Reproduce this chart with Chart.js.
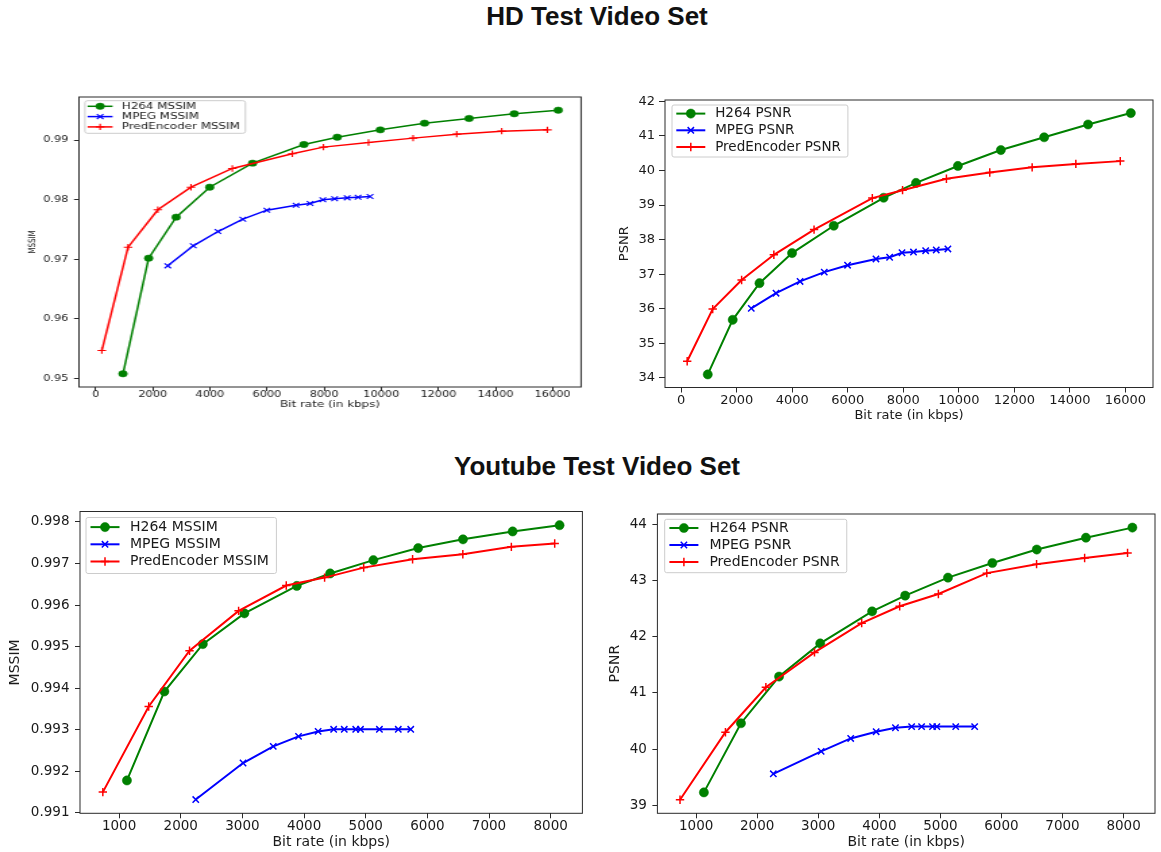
<!DOCTYPE html>
<html>
<head>
<meta charset="utf-8">
<script src="https://cdn.jsdelivr.net/npm/chart.js@4.4.1/dist/chart.umd.min.js"></script>
<style>
    html, body { margin: 0; padding: 0; background: #fff; }
    body { width: 1161px; height: 852px; position: relative; overflow: hidden; }
    .title { position: absolute; left: 0; width: 1194px; text-align: center; line-height: 30px;
             font-family: "Liberation Sans", Arial, sans-serif; font-weight: bold; font-size: 26px; color: #111; }
    .box { position: absolute; transform-origin: 0 0; }
    .box canvas { display: block; }
</style>
</head>
<body>
<div class="title" style="top:1px">HD Test Video Set</div>
<div class="title" style="top:451px">Youtube Test Video Set</div>
<div class="box" id="b1"><canvas id="c1"></canvas></div>
<div class="box" id="b2"><canvas id="c2"></canvas></div>
<div class="box" id="b3"><canvas id="c3"></canvas></div>
<div class="box" id="b4"><canvas id="c4"></canvas></div>
<script>
// ---- HD test video set ----
const hdH264Rate = [957, 1856, 2820, 3994, 5495, 7292, 8459, 9967, 11515, 13075, 14656, 16196];
const hdMpegRate = [2525, 3416, 4282, 5154, 5993, 7016, 7508, 7954, 8367, 8806, 9187, 9607];
const hdPredRate = [216, 1135, 2177, 3338, 4786, 6885, 7974, 9554, 11115, 12642, 14216, 15816];

const hdH264Mssim = [0.95079, 0.9702, 0.97708, 0.98211, 0.98614, 0.98927, 0.9905, 0.99173, 0.99285, 0.99364, 0.99442, 0.99503];
const hdMpegMssim = [0.96891, 0.97227, 0.97467, 0.97674, 0.97825, 0.97909, 0.97937, 0.97999, 0.98016, 0.98032, 0.98043, 0.98055];
const hdPredMssim = [0.9547, 0.97204, 0.97831, 0.98211, 0.98525, 0.98771, 0.98883, 0.98961, 0.99034, 0.99101, 0.99151, 0.99173];

const hdH264Psnr = [34.10, 35.68, 36.74, 37.61, 38.40, 39.21, 39.64, 40.13, 40.59, 40.96, 41.33, 41.66];
const hdMpegPsnr = [36.01, 36.45, 36.79, 37.06, 37.26, 37.44, 37.49, 37.62, 37.64, 37.68, 37.70, 37.73];
const hdPredPsnr = [34.48, 35.99, 36.83, 37.56, 38.29, 39.20, 39.43, 39.76, 39.94, 40.09, 40.19, 40.27];

// ---- Youtube test video set ----
const ytH264Rate = [1127, 1734, 2358, 3032, 3882, 4423, 5124, 5851, 6578, 7383, 8144];
const ytPredRate = [736, 1480, 2142, 2938, 3711, 4333, 4967, 5760, 6575, 7362, 8065];
const ytMpegRateMssim = [2243, 3010, 3500, 3910, 4228, 4480, 4652, 4838, 4915, 5222, 5528, 5730];
const ytMpegRatePsnr = [2264, 3047, 3531, 3948, 4264, 4529, 4692, 4871, 4942, 5251, 5561];

const ytH264Mssim = [0.99178, 0.99392, 0.99506, 0.9958, 0.99646, 0.99676, 0.99708, 0.99737, 0.99758, 0.99777, 0.99792];
const ytMpegMssim = [0.99132, 0.9922, 0.9926, 0.99284, 0.99296, 0.99301, 0.99301, 0.99301, 0.99301, 0.99301, 0.99301, 0.99301];
const ytPredMssim = [0.9915, 0.99356, 0.9949, 0.99586, 0.99647, 0.99666, 0.9969, 0.9971, 0.99722, 0.9974, 0.99748];

const ytH264Psnr = [39.23, 40.46, 41.29, 41.88, 42.45, 42.73, 43.05, 43.31, 43.55, 43.76, 43.94];
const ytMpegPsnr = [39.56, 39.96, 40.19, 40.31, 40.38, 40.40, 40.40, 40.40, 40.40, 40.40, 40.40];
const ytPredPsnr = [39.10, 40.30, 41.10, 41.72, 42.24, 42.54, 42.76, 43.13, 43.29, 43.40, 43.49];

// ---- ticks ----
const hdRateTicks = [0, 2000, 4000, 6000, 8000, 10000, 12000, 14000, 16000];
const hdRateLabels = ['0', '2000', '4000', '6000', '8000', '10000', '12000', '14000', '16000'];
const hdMssimTicks = [0.95, 0.96, 0.97, 0.98, 0.99];
const hdMssimLabels = ['0.95', '0.96', '0.97', '0.98', '0.99'];
const hdPsnrTicks = [34, 35, 36, 37, 38, 39, 40, 41, 42];
const hdPsnrLabels = ['34', '35', '36', '37', '38', '39', '40', '41', '42'];
const ytRateTicks = [1000, 2000, 3000, 4000, 5000, 6000, 7000, 8000];
const ytRateLabels = ['1000', '2000', '3000', '4000', '5000', '6000', '7000', '8000'];
const ytMssimTicks = [0.991, 0.992, 0.993, 0.994, 0.995, 0.996, 0.997, 0.998];
const ytMssimLabels = ['0.991', '0.992', '0.993', '0.994', '0.995', '0.996', '0.997', '0.998'];
const ytPsnrTicks = [39, 40, 41, 42, 43, 44];
const ytPsnrLabels = ['39', '40', '41', '42', '43', '44'];

const FONT = '"DejaVu Sans", sans-serif';
const INK = '#1a1a1a';

// matplotlib style autoscale: 5% margin on each side
function padRange(list) {
    const all = [].concat(...list);
    const lo = Math.min(...all), hi = Math.max(...all);
    const m = (hi - lo) * 0.05;
    return [lo - m, hi + m];
}

function pts(xs, ys) {
    return xs.map((x, i) => ({x: x, y: ys[i]}));
}

const styles = {
    h264: {color: '#008000', pointStyle: 'circle'},
    mpeg: {color: '#0000ff', pointStyle: 'crossRot'},
    pred: {color: '#ff0000', pointStyle: 'cross'}
};

function series(label, xs, ys, kind, sz, order) {
    const s = styles[kind];
    return {
        label: label,
        data: pts(xs, ys),
        showLine: true,
        fill: false,
        tension: 0,
        order: order,
        borderColor: s.color,
        borderWidth: sz.line,
        pointStyle: s.pointStyle,
        pointRadius: kind === 'h264' ? sz.dot : (kind === 'mpeg' ? sz.x : sz.plus),
        pointHoverRadius: kind === 'h264' ? sz.dot : sz.x,
        pointBorderWidth: kind === 'h264' ? 0.5 : sz.mark,
        pointBackgroundColor: s.color,
        pointBorderColor: s.color
    };
}

const frame = {
    id: 'frame',
    afterDatasetsDraw(chart, args, o) {
        const {ctx, chartArea: a} = chart;
        ctx.save();
        ctx.strokeStyle = '#2a2a2a';
        ctx.lineWidth = o.width || 1;
        ctx.strokeRect(a.left, a.top, a.right - a.left, a.bottom - a.top);
        ctx.restore();
    }
};

const mplLegend = {
    id: 'mplLegend',
    afterDraw(chart, args, o) {
        const {ctx, chartArea: a} = chart;
        const sets = chart.data.datasets;
        const x = a.left + o.bx, y = a.top + o.by;
        ctx.save();
        ctx.font = o.size + 'px ' + FONT;
        let tw = 0;
        sets.forEach(d => { tw = Math.max(tw, ctx.measureText(d.label).width); });
        const w = o.textX + tw + o.padR;
        ctx.beginPath();
        ctx.roundRect(x, y, w, o.bh, 2);
        ctx.fillStyle = 'rgba(255,255,255,0.8)';
        ctx.fill();
        ctx.strokeStyle = '#cccccc';
        ctx.lineWidth = 1;
        ctx.stroke();
        sets.forEach((d, i) => {
            const cy = y + o.r0 + i * o.rowH;
            ctx.strokeStyle = d.borderColor;
            ctx.lineWidth = d.borderWidth;
            ctx.beginPath();
            ctx.moveTo(x + o.lineX, cy);
            ctx.lineTo(x + o.lineX + o.lineLen, cy);
            ctx.stroke();
            ctx.fillStyle = d.pointBackgroundColor;
            ctx.strokeStyle = d.pointBorderColor;
            ctx.lineWidth = d.pointBorderWidth;
            Chart.helpers.drawPoint(ctx, {
                pointStyle: d.pointStyle, radius: d.pointRadius,
                borderWidth: d.pointBorderWidth, rotation: 0
            }, x + o.lineX + o.lineLen / 2, cy);
            ctx.fillStyle = INK;
            ctx.textAlign = 'left';
            ctx.textBaseline = 'middle';
            ctx.fillText(d.label, x + o.textX, cy);
        });
        ctx.restore();
    }
};

function axis(ticks, labels, range, o) {
    return {
        type: 'linear',
        min: range[0],
        max: range[1],
        afterBuildTicks: s => { s.ticks = ticks.map(v => ({value: v})); },
        afterFit: s => {
            if (o.width !== undefined) s.width = o.width;
            if (o.height !== undefined) s.height = o.height;
            s.paddingTop = 0; s.paddingBottom = 0; s.paddingLeft = 0; s.paddingRight = 0;
        },
        ticks: {
            autoSkip: false,
            maxRotation: 0,
            minRotation: 0,
            padding: o.pad,
            color: INK,
            font: {family: FONT, size: o.tick, lineHeight: 1},
            callback: (v, i) => labels[i]
        },
        grid: {display: true, drawOnChartArea: false, drawTicks: true, tickLength: o.tl, color: '#2a2a2a', lineWidth: 1},
        border: {display: false},
        title: {
            display: true,
            text: o.title,
            color: INK,
            font: {family: FONT, size: o.titleSize, lineHeight: 1.2},
            padding: o.titlePad
        }
    };
}

function makeChart(p) {
    const box = document.getElementById(p.box);
    box.style.left = p.left + 'px';
    box.style.top = p.top + 'px';
    box.style.width = p.w + 'px';
    box.style.height = p.h + 'px';
    if (p.sx !== 1) box.style.transform = 'scaleX(' + p.sx + ')';
    const cv = document.getElementById(p.canvas);
    cv.width = p.w;
    cv.height = p.h;
    return new Chart(cv.getContext('2d'), {
        type: 'scatter',
        data: {datasets: p.datasets},
        plugins: [frame, mplLegend],
        options: {
            responsive: false,
            animation: false,
            events: [],
            layout: {padding: {left: 0, top: p.area.t, right: p.w - p.area.r, bottom: 0}},
            plugins: {legend: {display: false}, tooltip: {enabled: false}, frame: {}, mplLegend: p.legend},
            scales: {
                x: axis(p.xTicks, p.xLabels, p.xRange, Object.assign({height: p.h - p.area.b}, p.xAxis)),
                y: axis(p.yTicks, p.yLabels, p.yRange, Object.assign({width: p.area.l}, p.yAxis))
            }
        }
    });
}

const smallSz = {line: 1.5, dot: 3.2, x: 3.4, plus: 3.2, mark: 1.1};
const bigSz = {line: 2, dot: 4.6, x: 4.5, plus: 4.2, mark: 1.5};

const hdRateRange = padRange([hdH264Rate, hdMpegRate, hdPredRate]);
const ytRateRange = padRange([ytH264Rate, ytMpegRateMssim, ytMpegRatePsnr, ytPredRate]);

// HD MSSIM (the source image of this panel is stretched horizontally)
makeChart({
    box: 'b1', canvas: 'c1', left: 0, top: 88, w: 437, h: 332, sx: 1.35,
    area: {l: 58.5, t: 9, r: 430.4, b: 299},
    xTicks: hdRateTicks, xLabels: hdRateLabels, xRange: hdRateRange,
    yTicks: hdMssimTicks, yLabels: hdMssimLabels, yRange: padRange([hdH264Mssim, hdMpegMssim, hdPredMssim]),
    xAxis: {tick: 8.4, tl: 4, pad: 0, title: 'Bit rate (in kbps)', titleSize: 8.8, titlePad: {top: 0, bottom: 9.6}},
    yAxis: {tick: 8.4, tl: 3.7, pad: 4.2, title: 'MSSIM', titleSize: 7.2, titlePad: {top: 20.2, bottom: 0}},
    legend: {size: 8.8, bx: 4.4, by: 3.7, bh: 32.6, r0: 5.6, rowH: 10.3, lineX: 2, lineLen: 18.5, textX: 27.4, padR: 4.2},
    datasets: [
        series('H264 MSSIM', hdH264Rate, hdH264Mssim, 'h264', smallSz, 3),
        series('MPEG MSSIM', hdMpegRate, hdMpegMssim, 'mpeg', smallSz, 2),
        series('PredEncoder MSSIM', hdPredRate, hdPredMssim, 'pred', smallSz, 1)
    ]
});

// HD PSNR
makeChart({
    box: 'b2', canvas: 'c2', left: 600, top: 88, w: 561, h: 337, sx: 1,
    area: {l: 65, t: 12, r: 553, b: 299.5},
    xTicks: hdRateTicks, xLabels: hdRateLabels, xRange: hdRateRange,
    yTicks: hdPsnrTicks, yLabels: hdPsnrLabels, yRange: padRange([hdH264Psnr, hdMpegPsnr, hdPredPsnr]),
    xAxis: {tick: 13, tl: 5, pad: 1.7, title: 'Bit rate (in kbps)', titleSize: 13, titlePad: {top: 0, bottom: 1.5}},
    yAxis: {tick: 13, tl: 6, pad: 4, title: 'PSNR', titleSize: 13, titlePad: {top: 16.7, bottom: 0}},
    legend: {size: 13.5, bx: 7, by: 5, bh: 52, r0: 8.6, rowH: 16.7, lineX: 4.3, lineLen: 29, textX: 43.2, padR: 7},
    datasets: [
        series('H264 PSNR', hdH264Rate, hdH264Psnr, 'h264', bigSz, 3),
        series('MPEG PSNR', hdMpegRate, hdMpegPsnr, 'mpeg', bigSz, 2),
        series('PredEncoder PSNR', hdPredRate, hdPredPsnr, 'pred', bigSz, 1)
    ]
});

// Youtube MSSIM
makeChart({
    box: 'b3', canvas: 'c3', left: 0, top: 500, w: 590, h: 352, sx: 1,
    area: {l: 80, t: 11.5, r: 582.4, b: 313.3},
    xTicks: ytRateTicks, xLabels: ytRateLabels, xRange: ytRateRange,
    yTicks: ytMssimTicks, yLabels: ytMssimLabels, yRange: padRange([ytH264Mssim, ytMpegMssim, ytPredMssim]),
    xAxis: {tick: 13.5, tl: 5, pad: 1.7, title: 'Bit rate (in kbps)', titleSize: 14, titlePad: {top: 0, bottom: 1.3}},
    yAxis: {tick: 13.5, tl: 5, pad: 5.5, title: 'MSSIM', titleSize: 14, titlePad: {top: 7, bottom: 0}},
    legend: {size: 14, bx: 6, by: 6, bh: 56, r0: 9.6, rowH: 17.2, lineX: 4.5, lineLen: 29, textX: 44, padR: 7.5},
    datasets: [
        series('H264 MSSIM', ytH264Rate, ytH264Mssim, 'h264', bigSz, 3),
        series('MPEG MSSIM', ytMpegRateMssim, ytMpegMssim, 'mpeg', bigSz, 2),
        series('PredEncoder MSSIM', ytPredRate, ytPredMssim, 'pred', bigSz, 1)
    ]
});

// Youtube PSNR
makeChart({
    box: 'b4', canvas: 'c4', left: 600, top: 500, w: 561, h: 352, sx: 1,
    area: {l: 57.4, t: 14, r: 560, b: 313.3},
    xTicks: ytRateTicks, xLabels: ytRateLabels, xRange: ytRateRange,
    yTicks: ytPsnrTicks, yLabels: ytPsnrLabels, yRange: padRange([ytH264Psnr, ytMpegPsnr, ytPredPsnr]),
    xAxis: {tick: 13.5, tl: 5, pad: 1.7, title: 'Bit rate (in kbps)', titleSize: 14, titlePad: {top: 0, bottom: 1.3}},
    yAxis: {tick: 13.5, tl: 5, pad: 5.5, title: 'PSNR', titleSize: 14, titlePad: {top: 7.1, bottom: 0}},
    legend: {size: 14, bx: 7.3, by: 5.3, bh: 53.4, r0: 8.7, rowH: 17, lineX: 4.7, lineLen: 29, textX: 44.7, padR: 7},
    datasets: [
        series('H264 PSNR', ytH264Rate, ytH264Psnr, 'h264', bigSz, 3),
        series('MPEG PSNR', ytMpegRatePsnr, ytMpegPsnr, 'mpeg', bigSz, 2),
        series('PredEncoder PSNR', ytPredRate, ytPredPsnr, 'pred', bigSz, 1)
    ]
});
</script>
</body>
</html>
